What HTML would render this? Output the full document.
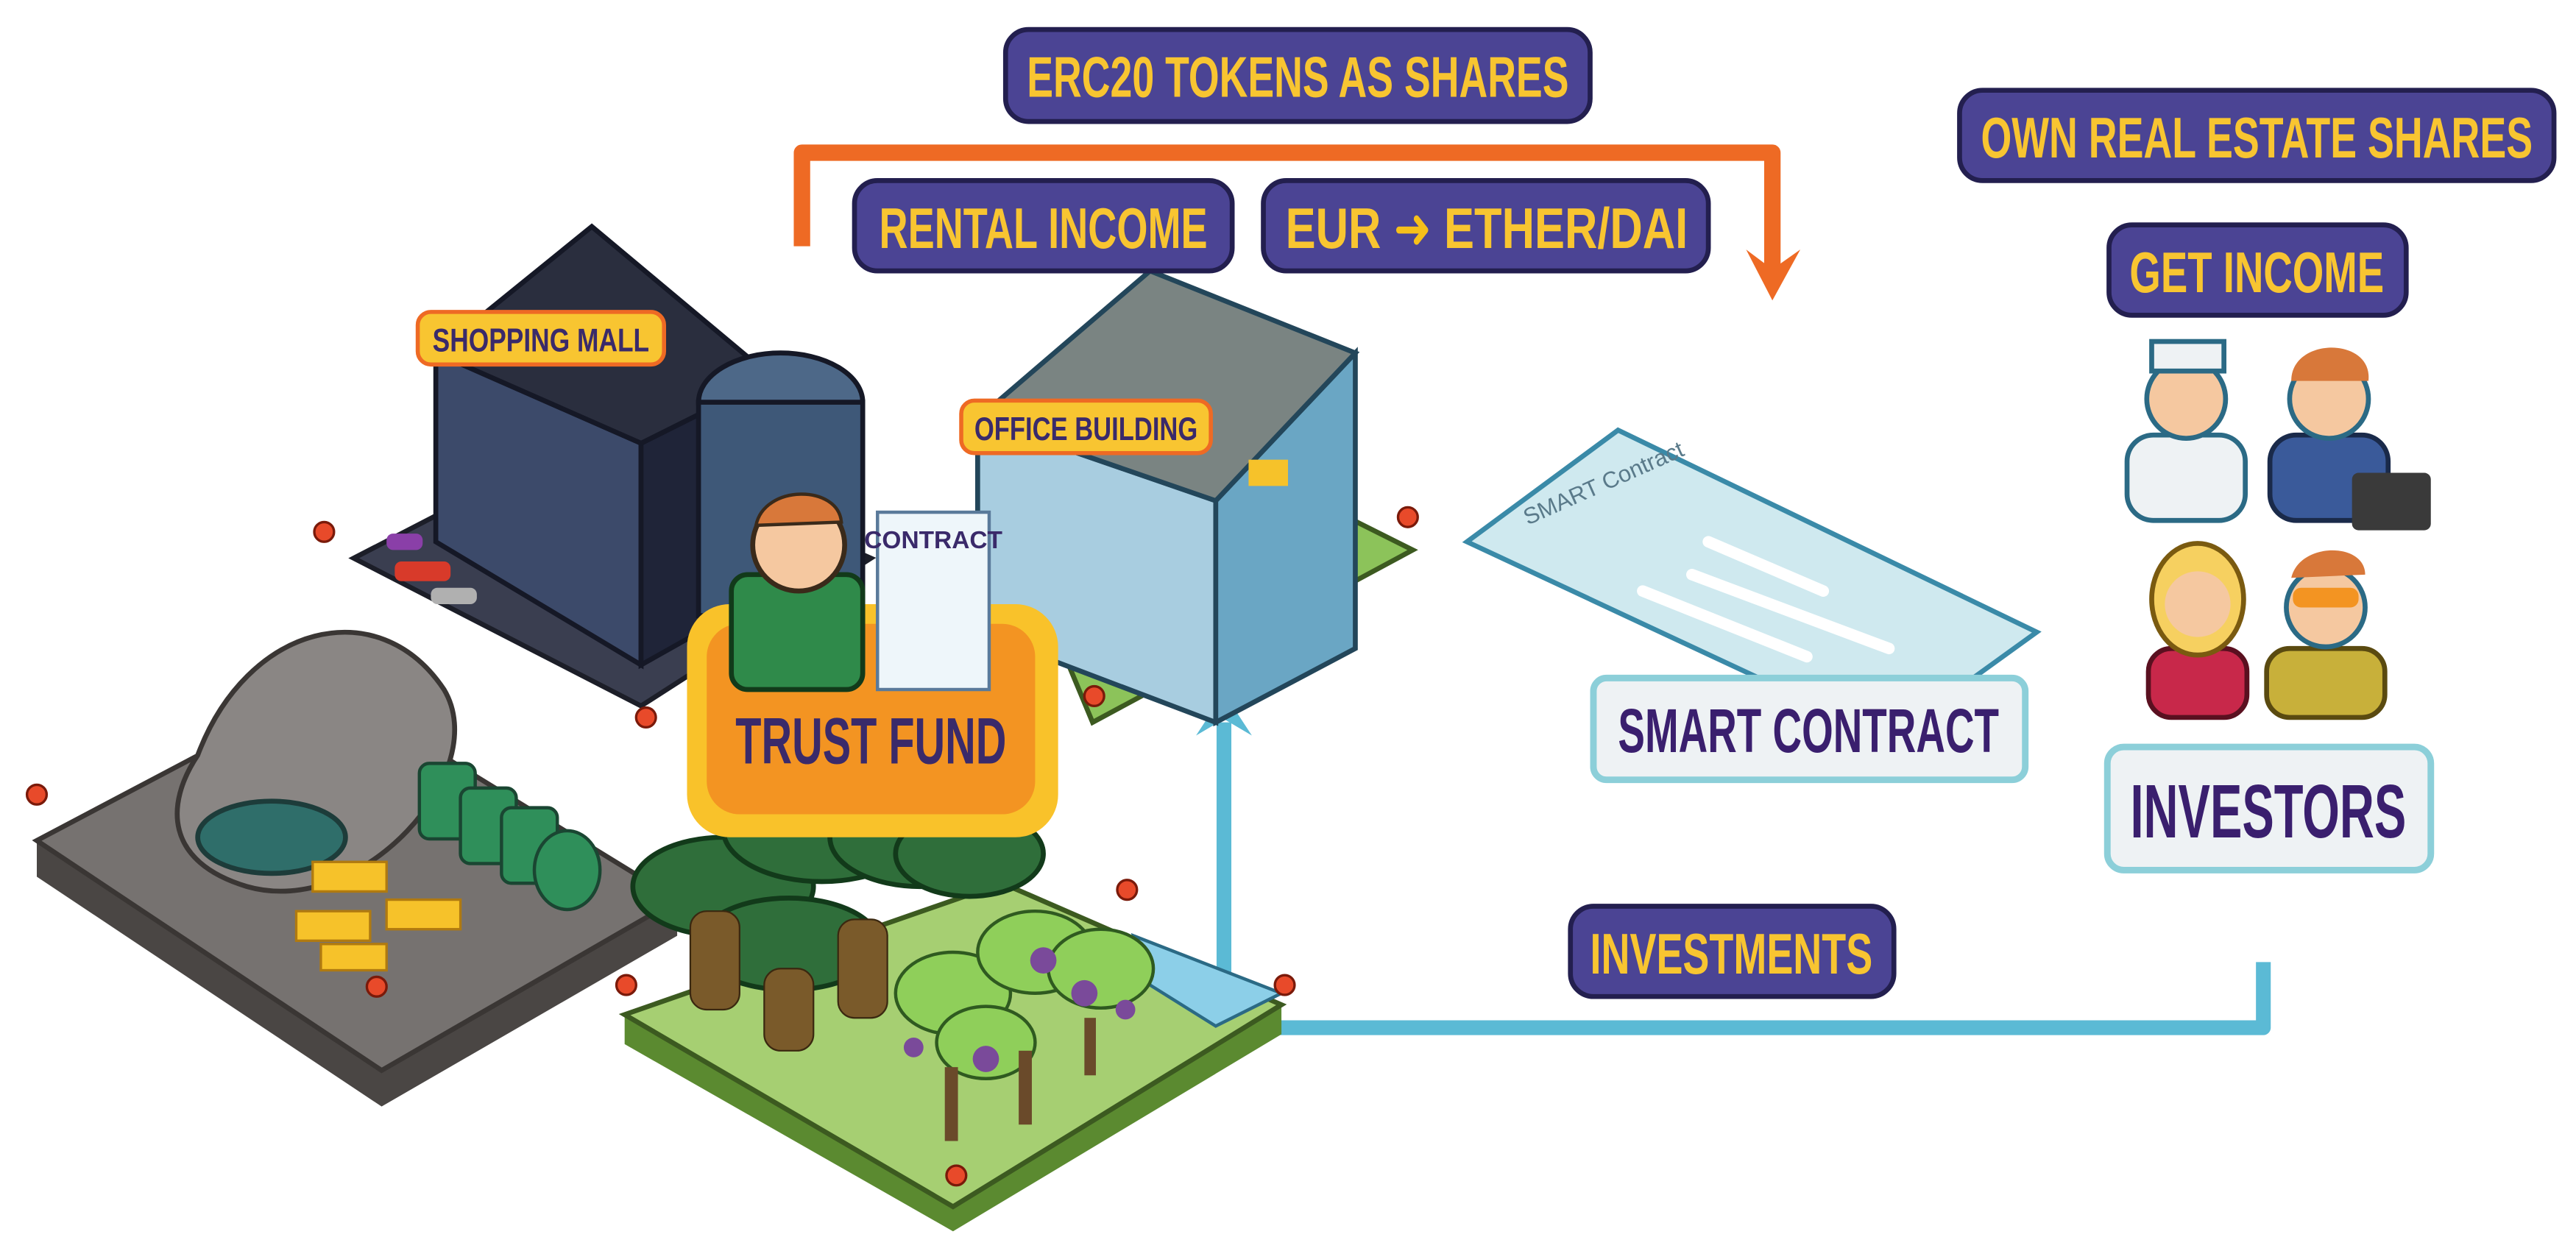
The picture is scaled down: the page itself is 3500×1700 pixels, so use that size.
<!DOCTYPE html>
<html><head><meta charset="utf-8"><style>
html,body{margin:0;padding:0;background:#fff;}
svg{display:block;}
.lbl{font-family:"Liberation Sans Narrow","Liberation Sans",sans-serif;font-weight:bold;}
</style></head><body>
<svg width="3500" height="1700" viewBox="0 0 1568 762" xmlns="http://www.w3.org/2000/svg">
<rect width="1568" height="762" fill="#fff"/>

<g>
<polyline points="488,150 488,93 1079,93 1079,168" fill="none" stroke="#ee6a24" stroke-width="10" stroke-linejoin="round"/>
<path d="M1063,152 L1079,183 L1096,152 L1079,164 Z" fill="#ee6a24"/>
</g>
<g>
<polyline points="1378,586 1378,626 745,626 745,440" fill="none" stroke="#5bbad5" stroke-width="9" stroke-linejoin="round"/>
<path d="M728,448 L745,422 L762,448 L745,438 Z" fill="#5bbad5"/>
</g>

<g>
<polygon points="22,512 232,652 412,548 412,570 232,674 22,534" fill="#4a4644"/>
<polygon points="22,512 200,418 412,548 232,652" fill="#767270" stroke="#3a3634" stroke-width="3"/>
<path d="M120,460 C150,380 230,360 270,420 C300,470 220,560 150,540 C100,525 100,490 120,460 Z" fill="#8a8684" stroke="#3a3634" stroke-width="3"/>
<ellipse cx="165" cy="510" rx="45" ry="22" fill="#2f6e6a" stroke="#1d3c3a" stroke-width="3"/>
<g fill="#f6c22a" stroke="#b07a10" stroke-width="1.5">
<rect x="190" y="525" width="45" height="18"/><rect x="180" y="555" width="45" height="18"/><rect x="235" y="548" width="45" height="18"/><rect x="195" y="575" width="40" height="16"/>
</g>
<g fill="#2f8f5a" stroke="#1a4632" stroke-width="2">
<rect x="255" y="465" width="34" height="46" rx="6"/><rect x="280" y="480" width="34" height="46" rx="6"/><rect x="305" y="492" width="34" height="46" rx="6"/><ellipse cx="345" cy="530" rx="20" ry="24"/>
</g>
</g>

<g>
<polygon points="215,340 360,265 530,340 390,430" fill="#3a3e50" stroke="#1c1e28" stroke-width="3"/>
<polygon points="265,215 265,330 390,405 390,270" fill="#3c4a6a" stroke="#151826" stroke-width="3"/>
<polygon points="390,270 390,405 470,360 470,230" fill="#1f2438" stroke="#151826" stroke-width="3"/>
<polygon points="265,215 360,138 470,230 390,270" fill="#2a2e3e" stroke="#151826" stroke-width="3"/>
<ellipse cx="475" cy="245" rx="50" ry="30" fill="#4d6888" stroke="#151826" stroke-width="3"/>
<rect x="425" y="245" width="100" height="130" fill="#3e5878" stroke="#151826" stroke-width="3"/>
<rect x="235" y="325" width="22" height="10" rx="4" fill="#8a3fa8"/><rect x="240" y="342" width="34" height="12" rx="4" fill="#d83a2a"/><rect x="262" y="358" width="28" height="10" rx="4" fill="#b0b0b0"/>
</g>

<g>
<polygon points="640,380 810,310 860,335 665,440" fill="#8cc35a" stroke="#3c5a20" stroke-width="3"/>
<polygon points="595,255 595,385 740,440 740,305" fill="#a8cde0" stroke="#23465a" stroke-width="3"/>
<polygon points="740,305 740,440 825,395 825,215" fill="#6aa6c4" stroke="#23465a" stroke-width="3"/>
<polygon points="595,255 700,165 825,215 740,305" fill="#7a8482" stroke="#23465a" stroke-width="3"/>
<rect x="760" y="280" width="24" height="16" fill="#f6c22a"/>
</g>

<g>
<polygon points="380,618 580,735 780,612 780,630 580,750 380,636" fill="#5b8a30"/>
<polygon points="380,618 610,538 780,612 580,735" fill="#a6cf72" stroke="#3c5a20" stroke-width="3"/>
<path d="M690,570 L780,605 L740,625 L700,600 Z" fill="#8ccfe8" stroke="#2b6a85" stroke-width="2"/>
<g fill="#2f6e3a" stroke="#123a1a" stroke-width="3">
<ellipse cx="440" cy="540" rx="55" ry="30"/><ellipse cx="500" cy="505" rx="60" ry="32"/><ellipse cx="560" cy="510" rx="55" ry="30"/><ellipse cx="480" cy="575" rx="55" ry="28"/><ellipse cx="590" cy="520" rx="45" ry="26"/>
</g>
<g fill="#7a5a2a" stroke="#3a2810"><rect x="420" y="555" width="30" height="60" rx="10"/><rect x="465" y="590" width="30" height="50" rx="10"/><rect x="510" y="560" width="30" height="60" rx="10"/></g>
<g fill="#8fcf5a" stroke="#2f5a20" stroke-width="2">
<ellipse cx="580" cy="605" rx="35" ry="25"/><ellipse cx="630" cy="580" rx="35" ry="25"/><ellipse cx="670" cy="590" rx="32" ry="24"/><ellipse cx="600" cy="635" rx="30" ry="22"/>
</g>
<g fill="#6a4a2a"><rect x="575" y="650" width="8" height="45"/><rect x="620" y="640" width="8" height="45"/><rect x="660" y="620" width="7" height="35"/></g>
<g fill="#7a4a9a"><circle cx="635" cy="585" r="8"/><circle cx="660" cy="605" r="8"/><circle cx="600" cy="645" r="8"/><circle cx="685" cy="615" r="6"/><circle cx="556" cy="638" r="6"/></g>
</g>

<g fill="#e84a2a" stroke="#7a1a0a" stroke-width="1.5">
<circle cx="197" cy="324" r="6"/><circle cx="393" cy="437" r="6"/><circle cx="22" cy="484" r="6"/><circle cx="229" cy="601" r="6"/><circle cx="381" cy="600" r="6"/><circle cx="686" cy="542" r="6"/><circle cx="782" cy="600" r="6"/><circle cx="582" cy="716" r="6"/><circle cx="857" cy="315" r="6"/><circle cx="666" cy="424" r="6"/>
</g>

<g>
<rect x="418" y="368" width="226" height="142" rx="26" fill="#f9c22a"/>
<rect x="430" y="380" width="200" height="116" rx="20" fill="#f39422"/>
<rect x="445" y="350" width="80" height="70" rx="10" fill="#2f8a4a" stroke="#123a1a" stroke-width="3"/>
<circle cx="486" cy="332" r="28" fill="#f5c8a0" stroke="#3a2a1a" stroke-width="3"/>
<path d="M460,320 C465,295 510,295 512,318 Z" fill="#d8783a" stroke="#3a2a1a" stroke-width="2"/>
<rect x="534" y="312" width="68" height="108" fill="#eef6fa" stroke="#5a7a9a" stroke-width="2"/>
<text class="lbl" x="568" y="334" font-size="15" fill="#3a2a6a" text-anchor="middle">CONTRACT</text>
<text class="lbl" x="530" y="465" font-size="40" fill="#3a2a6a" text-anchor="middle" textLength="165" lengthAdjust="spacingAndGlyphs">TRUST FUND</text>
</g>

<g>
<polygon points="893,330 985,262 1240,385 1150,450" fill="#cfe9ef" stroke="#3a8aa8" stroke-width="3"/>
<g stroke="#ffffff" stroke-width="7" stroke-linecap="round"><line x1="1040" y1="330" x2="1110" y2="360"/><line x1="1030" y1="350" x2="1150" y2="395"/><line x1="1000" y1="360" x2="1100" y2="400"/></g>
<text x="930" y="320" font-family="Liberation Sans,sans-serif" font-size="14" fill="#5a7a8a" transform="rotate(-24 930 320)">SMART Contract</text>
</g>

<g>
<g><rect x="1295" y="265" width="72" height="52" rx="16" fill="#eef2f4" stroke="#2b6a85" stroke-width="3"/><circle cx="1331" cy="243" r="24" fill="#f5c8a0" stroke="#2b6a85" stroke-width="3"/><rect x="1310" y="208" width="44" height="18" fill="#eef2f4" stroke="#2b6a85" stroke-width="3"/></g>
<g><rect x="1382" y="265" width="72" height="52" rx="16" fill="#3a5a9a" stroke="#1a2a4a" stroke-width="3"/><circle cx="1418" cy="243" r="24" fill="#f5c8a0" stroke="#2b6a85" stroke-width="3"/><path d="M1395,232 C1395,205 1445,205 1442,232 Z" fill="#d8783a"/><rect x="1432" y="288" width="48" height="35" rx="4" fill="#3a3a3a"/></g>
<g><rect x="1308" y="395" width="60" height="42" rx="14" fill="#c8284a" stroke="#5a1020" stroke-width="3"/><ellipse cx="1338" cy="365" rx="28" ry="34" fill="#f6d060" stroke="#7a5a10" stroke-width="3"/><circle cx="1338" cy="368" r="20" fill="#f5c8a0"/></g>
<g><rect x="1380" y="395" width="72" height="42" rx="14" fill="#c8b03a" stroke="#5a4a10" stroke-width="3"/><circle cx="1416" cy="370" r="24" fill="#f5c8a0" stroke="#2b6a85" stroke-width="3"/><rect x="1396" y="358" width="40" height="12" rx="5" fill="#f39422"/><path d="M1395,352 C1400,330 1440,330 1440,350 Z" fill="#d8783a"/></g>
</g>

<g><rect x="612" y="18" width="356" height="56" rx="14" fill="#4b4494" stroke="#231f4f" stroke-width="3"/><text class="lbl" x="790" y="59" font-size="35" fill="#f8c531" text-anchor="middle" textLength="330" lengthAdjust="spacingAndGlyphs">ERC20 TOKENS AS SHARES</text></g>
<g><rect x="520" y="110" width="230" height="55" rx="14" fill="#4b4494" stroke="#231f4f" stroke-width="3"/><text class="lbl" x="635" y="151" font-size="35" fill="#f8c531" text-anchor="middle" textLength="200" lengthAdjust="spacingAndGlyphs">RENTAL INCOME</text></g>
<g><rect x="769" y="110" width="271" height="55" rx="14" fill="#4b4494" stroke="#231f4f" stroke-width="3"/><text class="lbl" x="905" y="151" font-size="35" fill="#f8c531" text-anchor="middle" textLength="245" lengthAdjust="spacingAndGlyphs">EUR <tspan font-family="DejaVu Sans" fill="#f6c01a">➜</tspan> ETHER/DAI</text></g>
<g><rect x="1193" y="55" width="362" height="55" rx="14" fill="#4b4494" stroke="#231f4f" stroke-width="3"/><text class="lbl" x="1374" y="96" font-size="35" fill="#f8c531" text-anchor="middle" textLength="336" lengthAdjust="spacingAndGlyphs">OWN REAL ESTATE SHARES</text></g>
<g><rect x="1284" y="137" width="181" height="55" rx="14" fill="#4b4494" stroke="#231f4f" stroke-width="3"/><text class="lbl" x="1374" y="178" font-size="35" fill="#f8c531" text-anchor="middle" textLength="155" lengthAdjust="spacingAndGlyphs">GET INCOME</text></g>
<g><rect x="956" y="552" width="197" height="55" rx="14" fill="#4b4494" stroke="#231f4f" stroke-width="3"/><text class="lbl" x="1054" y="593" font-size="35" fill="#f8c531" text-anchor="middle" textLength="172" lengthAdjust="spacingAndGlyphs">INVESTMENTS</text></g>
<g><rect x="254" y="190" width="150" height="32" rx="8" fill="#f8c531" stroke="#ee6a24" stroke-width="2.5"/><text class="lbl" x="329" y="214" font-size="20" fill="#3a2a6a" text-anchor="middle" textLength="132" lengthAdjust="spacingAndGlyphs">SHOPPING MALL</text></g>
<g><rect x="585" y="244" width="152" height="32" rx="8" fill="#f8c531" stroke="#ee6a24" stroke-width="2.5"/><text class="lbl" x="661" y="268" font-size="20" fill="#3a2a6a" text-anchor="middle" textLength="136" lengthAdjust="spacingAndGlyphs">OFFICE BUILDING</text></g>
<g><rect x="970" y="413" width="263" height="62" rx="8" fill="#eef2f4" stroke="#8ccfd9" stroke-width="4"/><text class="lbl" x="1101" y="458" font-size="38" fill="#3a1f6e" text-anchor="middle" textLength="232" lengthAdjust="spacingAndGlyphs">SMART CONTRACT</text></g>
<g><rect x="1283" y="455" width="197" height="75" rx="10" fill="#eef2f4" stroke="#8ccfd9" stroke-width="4"/><text class="lbl" x="1381" y="510" font-size="46" fill="#3a1f6e" text-anchor="middle" textLength="168" lengthAdjust="spacingAndGlyphs">INVESTORS</text></g>
</svg>
</body></html>
